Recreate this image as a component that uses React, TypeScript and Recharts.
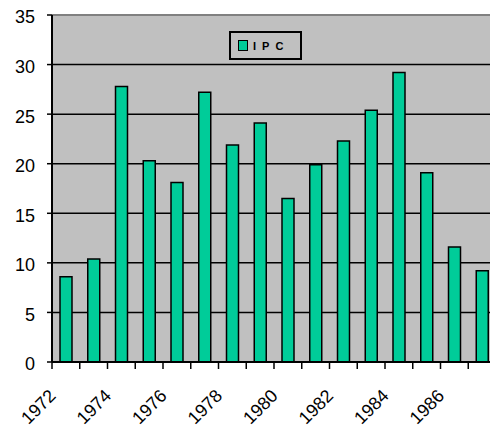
import { BarChart, Bar, XAxis, YAxis, CartesianGrid, ReferenceLine } from 'recharts';

const years = [
  '1972', '1973', '1974', '1975', '1976', '1977', '1978', '1979',
  '1980', '1981', '1982', '1983', '1984', '1985', '1986', '1987',
];
const ipc = [8.6, 10.4, 27.8, 20.3, 18.1, 27.2, 21.9, 24.1, 16.5, 19.9, 22.3, 25.4, 29.2, 19.1, 11.6, 9.2];
const yTicks = [0, 5, 10, 15, 20, 25, 30, 35];

const data = years.map((year, i) => ({ year, IPC: ipc[i] }));

const FONT = '"Liberation Sans", Arial, sans-serif';

function YearTick(props: any) {
  const { x, y, payload, index } = props;
  const half = payload?.offset ?? 13.9;
  const bx = x - half;
  const ax = x - 9;
  const ay = y + 35;
  return (
    <g>
      <line x1={bx} y1={y} x2={bx} y2={y + 7} stroke="#000" strokeWidth={1.5} />
      {index % 2 === 0 && (
        <text
          x={ax}
          y={ay}
          textAnchor="end"
          fontSize={18}
          fontFamily={FONT}
          fill="#000"
          transform={`rotate(-45, ${ax}, ${ay})`}
        >
          {payload.value}
        </text>
      )}
    </g>
  );
}

export default function App() {
  return (
    <div
      style={{
        position: 'absolute',
        left: 0,
        top: 0,
        width: 490,
        height: 430,
        overflow: 'hidden',
        background: '#fff',
        fontFamily: FONT,
      }}
    >
      <BarChart width={496} height={430} data={data} margin={{ top: 15, right: 0, left: 0, bottom: 0 }}>
        <CartesianGrid vertical={false} stroke="#000" strokeWidth={1.5} fill="#C0C0C0" fillOpacity={1} />
        <ReferenceLine y={35} stroke="#808080" strokeWidth={2} />
        <XAxis
          dataKey="year"
          interval={0}
          height={68}
          tickSize={0}
          tickMargin={0}
          tickLine={false}
          axisLine={{ stroke: '#000', strokeWidth: 2 }}
          tick={<YearTick />}
        />
        <YAxis
          width={52}
          domain={[0, 35]}
          ticks={yTicks}
          interval={0}
          tickSize={5}
          tickMargin={12}
          axisLine={{ stroke: '#000', strokeWidth: 2 }}
          tickLine={{ stroke: '#000', strokeWidth: 1.5 }}
          tick={{ fill: '#000', fontSize: 18, fontFamily: FONT, dy: 2 }}
        />
        <Bar dataKey="IPC" fill="#00CC99" stroke="#000" strokeWidth={1.5} barSize={12} isAnimationActive={false} />
      </BarChart>
      <div
        style={{
          position: 'absolute',
          left: 229,
          top: 31,
          width: 69,
          height: 25,
          border: '2px solid #000',
          background: '#C0C0C0',
          display: 'flex',
          alignItems: 'center',
        }}
      >
        <span
          style={{
            display: 'inline-block',
            width: 8,
            height: 9,
            marginLeft: 7,
            background: '#00CC99',
            border: '1.5px solid #000',
          }}
        />
        <span
          style={{
            marginLeft: 5,
            fontSize: 11,
            fontWeight: 'bold',
            letterSpacing: 6,
            color: '#000',
          }}
        >
          IPC
        </span>
      </div>
    </div>
  );
}
